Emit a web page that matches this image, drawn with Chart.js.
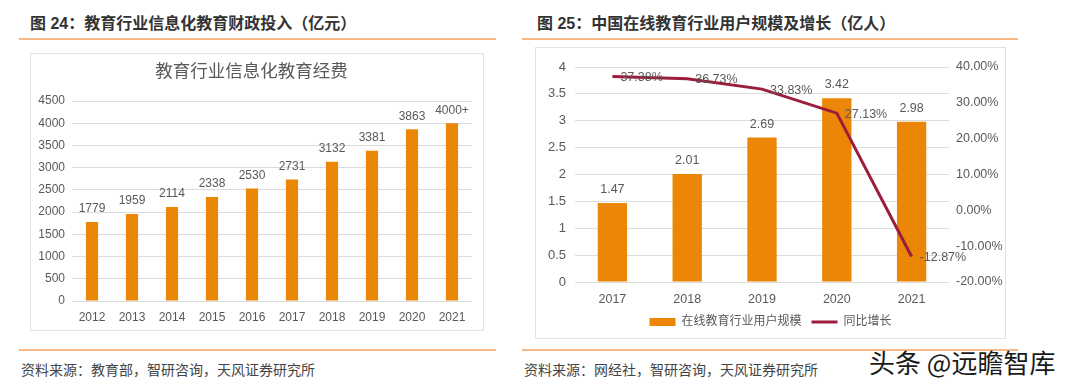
<!DOCTYPE html>
<html>
<head>
<meta charset="utf-8">
<script src="https://cdn.jsdelivr.net/npm/chart.js@4"></script>
<style>
  body { margin: 0; width: 1080px; height: 389px; background: #fff; position: relative; overflow: hidden;
         font-family: "Liberation Sans", "Noto Sans CJK SC", sans-serif; }
  .title { position: absolute; top: 13px; font-size: 16px; line-height: 22px; font-weight: bold; color: #333; white-space: nowrap; }
  .rule { position: absolute; height: 2px; background: #f6b98a; }
  .box { position: absolute; border: 1px solid #e2e2e2; box-sizing: border-box; }
  .box canvas { position: absolute; left: 0; top: 0; }
  .src { position: absolute; top: 360px; font-size: 14px; line-height: 20px; color: #444; white-space: nowrap; }
  .mark { position: absolute; left: 869px; top: 344px; font-size: 26px; line-height: 36px; color: #1a1a1a;
          font-family: "Noto Sans CJK SC", sans-serif; white-space: nowrap; }
</style>
</head>
<body>
<div class="title" style="left:30px">图 24：教育行业信息化教育财政投入（亿元）</div>
<div class="title" style="left:537px">图 25：中国在线教育行业用户规模及增长（亿人）</div>
<div class="rule" style="left:19px; width:477px; top:38px"></div>
<div class="rule" style="left:522px; width:496px; top:38px"></div>

<div class="box" style="left:30px; top:53px; width:454px; height:278px">
  <canvas id="spend" width="452" height="276"></canvas>
</div>
<div class="box" style="left:535px; top:47px; width:471px; height:292px">
  <canvas id="users" width="469" height="290"></canvas>
</div>

<div class="rule" style="left:19px; width:477px; top:349px"></div>
<div class="rule" style="left:522px; width:496px; top:349px"></div>
<div class="src" style="left:21px">资料来源：教育部，智研咨询，天风证券研究所</div>
<div class="src" style="left:524px">资料来源：网经社，智研咨询，天风证券研究所</div>
<div class="mark">头条 @远瞻智库</div>

<script>
// 图24 data
const spendYears = ['2012', '2013', '2014', '2015', '2016', '2017', '2018', '2019', '2020', '2021'];
const spendValues = [1779, 1959, 2114, 2338, 2530, 2731, 3132, 3381, 3863, 4000];
const spendLabels = ['1779', '1959', '2114', '2338', '2530', '2731', '3132', '3381', '3863', '4000+'];

// 图25 data
const userYears = ['2017', '2018', '2019', '2020', '2021'];
const userValues = [1.47, 2.01, 2.69, 3.42, 2.98];
const growthValues = [37.38, 36.73, 33.83, 27.13, -12.87];

const ORANGE = '#ec8606';
const MAROON = '#9c1c3c';
const GRID = '#dcdcdc';
const TEXT = '#595959';
const FONT = '"Liberation Sans", "Noto Sans CJK SC", sans-serif';

// value labels above bars / next to line points
const valueLabels = {
    id: 'valueLabels',
    afterDatasetsDraw(chart, args, opts) {
        const ctx = chart.ctx;
        ctx.save();
        ctx.fillStyle = TEXT;
        ctx.font = opts.size + 'px ' + FONT;
        chart.data.datasets.forEach((ds, i) => {
            const meta = chart.getDatasetMeta(i);
            meta.data.forEach((el, j) => {
                const txt = opts.text(ds, j);
                if (ds.type === 'line') {
                    ctx.textAlign = 'left';
                    ctx.textBaseline = 'middle';
                    ctx.fillText(txt, el.x + 8, el.y + 1);
                } else {
                    ctx.textAlign = 'center';
                    ctx.textBaseline = 'bottom';
                    ctx.fillText(txt, el.x, el.y - 7);
                }
            });
        });
        ctx.restore();
    }
};

new Chart(document.getElementById('spend'), {
    type: 'bar',
    data: {
        labels: spendYears,
        datasets: [{
            label: '教育行业信息化教育经费',
            data: spendValues,
            backgroundColor: ORANGE,
            barPercentage: 0.38,
            categoryPercentage: 0.8
        }]
    },
    options: {
        responsive: false,
        animation: false,
        layout: { padding: { left: 0, right: 11, top: 0, bottom: 0 } },
        plugins: {
            legend: { display: false },
            tooltip: { enabled: false },
            title: {
                display: true,
                text: '教育行业信息化教育经费',
                color: TEXT,
                font: { family: FONT, size: 17.5, weight: 'normal' },
                padding: { top: 8, bottom: 18 }
            },
            valueLabels: { size: 12, text: (ds, j) => spendLabels[j] }
        },
        scales: {
            x: {
                grid: { display: false },
                border: { display: false },
                ticks: { color: TEXT, font: { family: FONT, size: 12 }, padding: 1 },
                afterFit: s => { s.height = 29; }
            },
            y: {
                min: 0, max: 4500,
                ticks: { stepSize: 500, color: TEXT, font: { family: FONT, size: 12 }, padding: 7, callback: v => String(v) },
                grid: { color: GRID, drawTicks: false },
                border: { display: false },
                afterFit: s => { s.width = 41; }
            }
        }
    },
    plugins: [valueLabels]
});

new Chart(document.getElementById('users'), {
    data: {
        labels: userYears,
        datasets: [{
            type: 'bar',
            label: '在线教育行业用户规模',
            data: userValues,
            backgroundColor: ORANGE,
            barPercentage: 0.49,
            categoryPercentage: 0.8,
            yAxisID: 'y',
            order: 1
        }, {
            type: 'line',
            label: '同比增长',
            data: growthValues,
            borderColor: MAROON,
            backgroundColor: MAROON,
            borderWidth: 3,
            pointRadius: 0,
            tension: 0,
            yAxisID: 'y2',
            order: 0
        }]
    },
    options: {
        responsive: false,
        animation: false,
        layout: { padding: { left: 0, right: 0, top: 19, bottom: 0 } },
        plugins: {
            tooltip: { enabled: false },
            legend: {
                position: 'bottom',
                labels: {
                    usePointStyle: true,
                    pointStyleWidth: 26,
                    boxHeight: 8,
                    padding: 10,
                    color: TEXT,
                    font: { family: FONT, size: 12 },
                    sort: (a, b) => a.datasetIndex - b.datasetIndex,
                    generateLabels: chart => Chart.defaults.plugins.legend.labels.generateLabels(chart).map(item => {
                        if (item.datasetIndex === 1) {
                            item.pointStyle = 'line';
                            item.strokeStyle = MAROON;
                            item.lineWidth = 3;
                        } else {
                            item.pointStyle = 'rect';
                            item.fillStyle = ORANGE;
                            item.strokeStyle = ORANGE;
                            item.lineWidth = 0;
                        }
                        return item;
                    })
                }
            },
            valueLabels: {
                size: 12.5,
                text: (ds, j) => ds.type === 'line' ? ds.data[j].toFixed(2) + '%' : ds.data[j].toFixed(2)
            }
        },
        scales: {
            x: {
                grid: { display: false },
                border: { display: false },
                ticks: { color: TEXT, font: { family: FONT, size: 12.5 }, padding: 2 },
                afterFit: s => { s.height = 24; }
            },
            y: {
                position: 'left',
                min: 0, max: 4,
                ticks: { stepSize: 0.5, color: TEXT, font: { family: FONT, size: 13 }, padding: 9, callback: v => String(v) },
                grid: { color: GRID, drawTicks: false },
                border: { display: false },
                afterFit: s => { s.width = 39; }
            },
            y2: {
                position: 'right',
                min: -20, max: 40,
                ticks: {
                    stepSize: 10, color: TEXT, font: { family: FONT, size: 12.5 }, padding: 7,
                    callback: v => v.toFixed(2) + '%'
                },
                grid: { display: false, drawTicks: false },
                border: { display: false },
                afterFit: s => { s.width = 56; }
            }
        }
    },
    plugins: [valueLabels]
});
</script>
</body>
</html>
